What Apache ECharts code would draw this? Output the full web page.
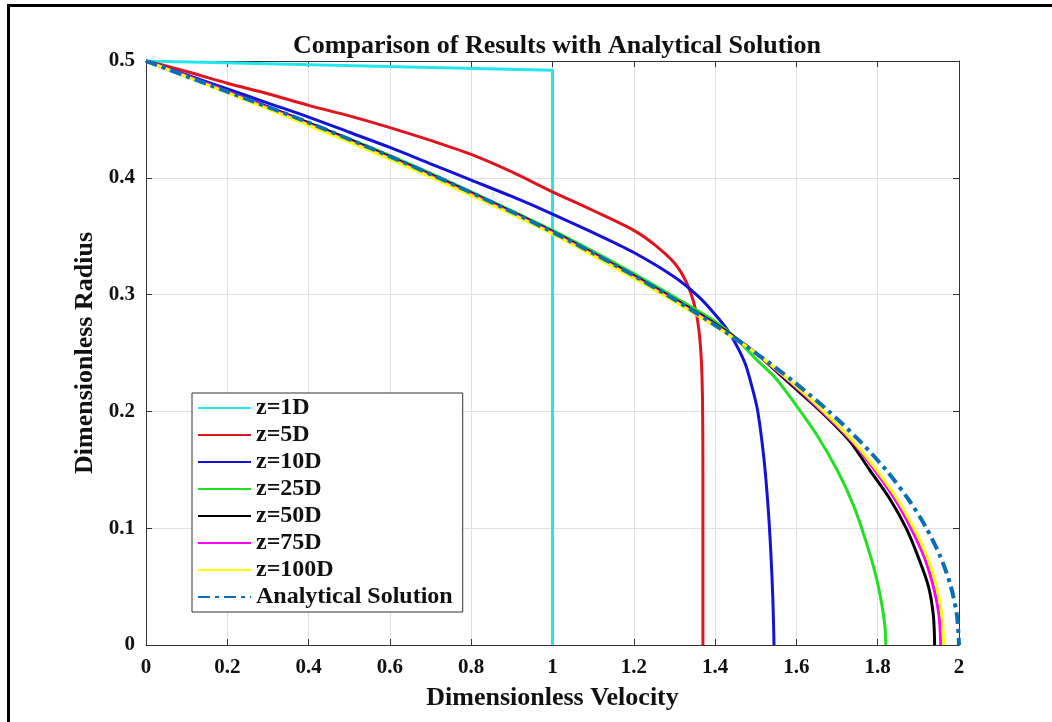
<!DOCTYPE html>
<html>
<head>
<meta charset="utf-8">
<script src="https://cdn.jsdelivr.net/npm/echarts@6/dist/echarts.min.js"></script>
<style>
html,body{margin:0;padding:0;background:#fff;}
#chart{width:1052px;height:722px;}
</style>
</head>
<body>
<div id="chart"></div>
<script>
// ---- data: [dimensionless velocity, dimensionless radius] ----
const seriesNames = ['z=1D','z=5D','z=10D','z=25D','z=50D','z=75D','z=100D','Analytical Solution'];
const xTicks = [0,0.2,0.4,0.6,0.8,1,1.2,1.4,1.6,1.8,2];
const yTicks = [0,0.1,0.2,0.3,0.4,0.5];

const z1D = [[0,0.5],[1.0,0.492],[1.0,0]];
const z5D = [[0,0.5],[0.1,0.491],[0.2,0.481],[0.3,0.472],[0.4,0.462],[0.5,0.453],[0.6,0.443],[0.7,0.432],[0.8,0.42],[0.9,0.405],[1.0,0.388],[1.1,0.372],[1.2,0.355],[1.25,0.343],[1.3,0.327],[1.33,0.31],[1.35,0.29],[1.36,0.27],[1.366,0.245],[1.369,0.21],[1.37,0.15],[1.37,0.0]];
const z10D = [[0,0.5],[0.1,0.488],[0.2,0.476],[0.3,0.464],[0.4,0.452],[0.5,0.439],[0.6,0.426],[0.7,0.412],[0.8,0.398],[0.9,0.384],[1.0,0.369],[1.1,0.353],[1.2,0.336],[1.3,0.315],[1.36,0.298],[1.4,0.283],[1.43,0.27],[1.455,0.255],[1.475,0.24],[1.49,0.222],[1.505,0.2],[1.52,0.16],[1.53,0.12],[1.537,0.08],[1.542,0.04],[1.545,0.0]];
const z25D = [[0,0.5],[0.2,0.474],[0.4,0.447],[0.6,0.419],[0.8,0.388],[1.0,0.355],[1.1,0.337],[1.2,0.318],[1.3,0.298],[1.4,0.277],[1.45,0.263],[1.5,0.245],[1.55,0.228],[1.6,0.205],[1.65,0.18],[1.7,0.15],[1.74,0.12],[1.77,0.09],[1.795,0.06],[1.81,0.035],[1.818,0.015],[1.82,0]];
const z50D = [[0,0.5],[0.2,0.474],[0.4,0.447],[0.6,0.418],[0.8,0.387],[1.0,0.354],[1.2,0.316],[1.3,0.296],[1.4,0.275],[1.5,0.25],[1.58,0.225],[1.66,0.2],[1.73,0.175],[1.78,0.15],[1.83,0.125],[1.87,0.1],[1.9,0.075],[1.925,0.05],[1.937,0.025],[1.94,0]];
const z75D = [[0,0.5],[0.2,0.474],[0.4,0.446],[0.6,0.417],[0.8,0.386],[1.0,0.353],[1.2,0.315],[1.3,0.295],[1.4,0.274],[1.5,0.25],[1.585,0.225],[1.663,0.2],[1.735,0.175],[1.792,0.15],[1.842,0.125],[1.882,0.1],[1.915,0.075],[1.937,0.05],[1.951,0.025],[1.955,0]];
const z100D = [[0,0.5],[0.2,0.473],[0.4,0.445],[0.6,0.416],[0.8,0.385],[1.0,0.352],[1.2,0.314],[1.3,0.294],[1.4,0.273],[1.5,0.25],[1.588,0.225],[1.667,0.2],[1.738,0.175],[1.797,0.15],[1.848,0.125],[1.889,0.1],[1.922,0.075],[1.945,0.05],[1.958,0.025],[1.962,0]];
const analytical = [[0,0.5],[0.19,0.475],[0.38,0.45],[0.555,0.425],[0.72,0.4],[0.875,0.375],[1.02,0.35],[1.155,0.325],[1.28,0.3],[1.395,0.275],[1.5,0.25],[1.595,0.225],[1.68,0.2],[1.755,0.175],[1.82,0.15],[1.875,0.125],[1.92,0.1],[1.955,0.075],[1.98,0.05],[1.995,0.025],[2,0]];

const seriesData = [z1D, z5D, z10D, z25D, z50D, z75D, z100D, analytical];
const colors = ['#22e6ee','#e0141c','#1212d8','#22e022','#000000','#ff00ff','#ffff00','#0a6fb8'];

const FONT = '"Liberation Serif", "Times New Roman", serif';
const chart = echarts.init(document.getElementById('chart'), null, {renderer:'canvas'});

const series = seriesNames.map((name, i) => ({
  name: name,
  type: 'line',
  data: seriesData[i],
  xAxisIndex: 0,
  yAxisIndex: 0,
  showSymbol: false,
  symbol: 'none',
  smooth: i === 0 ? false : 0.3,
  lineStyle: {
    color: colors[i],
    width: i === 7 ? 4 : 3,
    type: i === 7 ? [12, 5, 4, 5] : 'solid'
  },
  itemStyle: {color: colors[i]},
  emphasis: {disabled: true},
  animation: false
}));

const axisLineStyle = {color: '#333333', width: 1};

chart.setOption({
  animation: false,
  backgroundColor: '#ffffff',
  title: {
    text: 'Comparison of Results with Analytical Solution',
    left: 552, top: 28, textAlign: 'center',
    textStyle: {fontFamily: FONT, fontWeight: 'bold', fontSize: 26, color: '#111'}
  },
  grid: {left: 146, right: 93, top: 61, bottom: 77},
  legend: {
    orient: 'vertical',
    left: 192, top: 393,
    data: seriesNames,
    itemWidth: 53, itemHeight: 14, itemGap: 3,
    padding: [3, 10, 3, 5],
    backgroundColor: '#ffffff',
    borderColor: '#333333', borderWidth: 1, borderRadius: 0,
    selectedMode: false,
    itemStyle: {opacity: 0},
    textStyle: {fontFamily: FONT, fontWeight: 'bold', fontSize: 24, lineHeight: 23, color: '#111'}
  },
  xAxis: [{
    type: 'value', min: 0, max: 2, interval: 0.2, position: 'bottom',
    name: 'Dimensionless Velocity', nameLocation: 'middle', nameGap: 40,
    nameTextStyle: {fontFamily: FONT, fontWeight: 'bold', fontSize: 26, color: '#111'},
    axisLine: {show: true, onZero: false, lineStyle: axisLineStyle},
    axisTick: {show: true, inside: true, length: 6, lineStyle: axisLineStyle},
    axisLabel: {fontFamily: FONT, fontWeight: 'bold', fontSize: 21, color: '#111', margin: 12,
      formatter: v => String(+v.toFixed(1))},
    splitLine: {show: true, lineStyle: {color: '#e0e0e0', width: 1}}
  }, {
    type: 'value', min: 0, max: 2, interval: 0.2, position: 'top',
    axisLine: {show: true, onZero: false, lineStyle: axisLineStyle},
    axisTick: {show: true, inside: true, length: 6, lineStyle: axisLineStyle},
    axisLabel: {show: false}, splitLine: {show: false}
  }],
  yAxis: [{
    type: 'value', min: 0, max: 0.5, interval: 0.1, position: 'left',
    name: 'Dimensionless Radius', nameLocation: 'middle', nameGap: 41, nameRotate: 90,
    nameTextStyle: {fontFamily: FONT, fontWeight: 'bold', fontSize: 26, color: '#111'},
    axisLine: {show: true, onZero: false, lineStyle: axisLineStyle},
    axisTick: {show: true, inside: true, length: 6, lineStyle: axisLineStyle},
    axisLabel: {fontFamily: FONT, fontWeight: 'bold', fontSize: 21, color: '#111', margin: 11,
      formatter: v => String(+v.toFixed(1))},
    splitLine: {show: true, lineStyle: {color: '#e0e0e0', width: 1}}
  }, {
    type: 'value', min: 0, max: 0.5, interval: 0.1, position: 'right',
    axisLine: {show: true, onZero: false, lineStyle: axisLineStyle},
    axisTick: {show: true, inside: true, length: 6, lineStyle: axisLineStyle},
    axisLabel: {show: false}, splitLine: {show: false}
  }],
  graphic: [
    {type: 'rect', left: 7, top: 4, shape: {width: 1045, height: 3}, style: {fill: '#000'}, silent: true},
    {type: 'rect', left: 7, top: 4, shape: {width: 3, height: 718}, style: {fill: '#000'}, silent: true}
  ],
  series: series
});
</script>
</body>
</html>
